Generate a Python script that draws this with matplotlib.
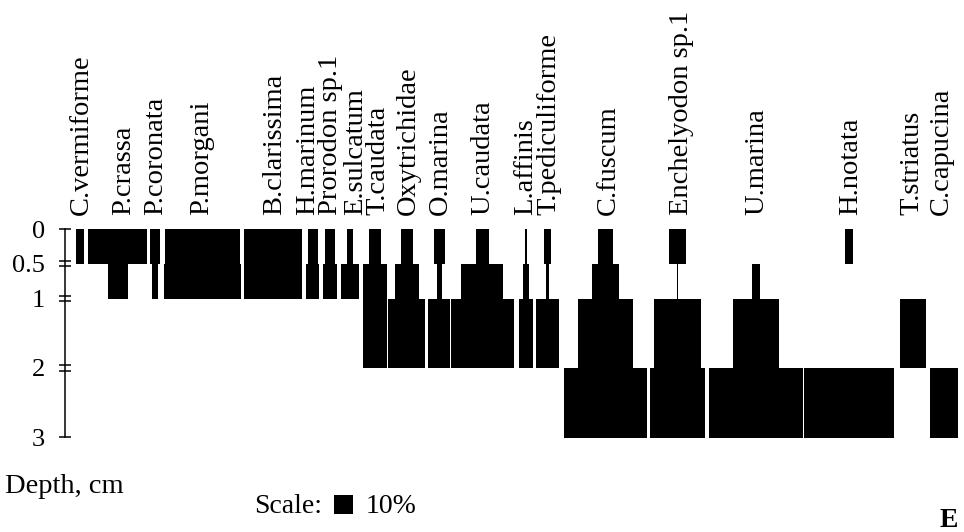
import matplotlib
matplotlib.use("Agg")
import matplotlib.pyplot as plt
from matplotlib.transforms import blended_transform_factory

plt.rcParams["font.family"] = ["Liberation Serif", "DejaVu Serif"]

# ciliate species along the transect
species = ["C.vermiforme", "P.crassa", "P.coronata", "P.morgani", "B.clarissima",
           "H.marinum", "Prorodon sp.1", "E.sulcatum", "T.caudata", "Oxytrichidae",
           "O.marina", "U.caudata", "L.affinis", "T.pediculiforme", "C.fuscum",
           "Enchelyodon sp.1", "U.marina", "H.notata", "T.striatus", "C.capucina"]
# kite centre lines, in transect units
centre = [8.1, 28.4, 48.6, 74.3, 112.6, 133.8, 143.2, 154.1, 167.5, 184.8,
          202.3, 225.6, 249.2, 260.9, 292.2, 331.1, 373.5, 424.0, 458.5, 475.0]

# depth layers (cm) and abundance (%) in each layer, half-width of the kite
layer_edges = [0, 0.5, 1, 2, 3]
pct_0_05 = [2.2, 15.7, 2.6, 20.4, 15.7, 2.7, 2.9, 1.4, 3.2, 3.2,
            3.1, 3.6, 0.5, 1.9, 4.1, 4.6, 0.2, 2.2, 0, 0]
pct_05_1 = [0, 5.4, 1.4, 20.8, 15.7, 3.7, 3.7, 4.9, 6.5, 6.3,
            1.4, 11.4, 1.8, 0.9, 7.3, 0.5, 2.1, 0, 0, 0]
pct_1_2 = [0, 0, 0, 0, 0, 0, 0, 0, 6.5, 10.0,
           5.9, 17.0, 3.8, 6.3, 14.7, 12.7, 12.5, 0, 6.9, 0]
pct_2_3 = [0, 0, 0, 0, 0, 0, 0, 0, 0, 0,
           0, 0, 0, 0, 22.4, 14.9, 25.5, 24.3, 0, 7.6]
layers = [pct_0_05, pct_05_1, pct_1_2, pct_2_3]

depth_ticks = [0, 0.5, 1, 2, 3]
depth_labels = ["0", "0.5", "1", "2", "3"]
SCALE_PCT = 10

# layout (pixels)
W, H = 964, 532
PX = 1.85          # px per transect unit
CM = 69.5          # px per cm of depth
X0, Y0 = 65, 229   # axis origin
label_nudge = {"P.crassa": 5, "P.morgani": -2, "H.marinum": -6, "E.sulcatum": 4.5,
               "T.caudata": 2.5, "L.affinis": -1, "C.fuscum": 2,
               "Enchelyodon sp.1": 3, "T.striatus": -2.5, "C.capucina": -3.5}

fig = plt.figure(figsize=(W / 100, H / 100), dpi=100)
ax = fig.add_axes([X0 / W, 1 - (Y0 + 3 * CM) / H, (W - X0) / W, 3 * CM / H])

for k, pct in enumerate(layers):
    top, bot = layer_edges[k], layer_edges[k + 1]
    for c, v in zip(centre, pct):
        if v > 0:
            ax.bar(c, bot - top, width=2 * v, bottom=top, color="black",
                   linewidth=0)

# depth axis with double ticks at the inner boundaries
for s in ["top", "right", "bottom"]:
    ax.spines[s].set_visible(False)
ax.spines["left"].set_bounds(0, 3)
ax.spines["left"].set_linewidth(1.1)
ax.set_xticks([])
ax.set_yticks(depth_ticks)
ax.set_yticklabels(depth_labels, fontsize=19)
ax.tick_params(axis="y", which="major", length=0, pad=14.4)
d = 2.6 / CM
minor = [0, 3] + [t + s for t in depth_ticks[1:-1] for s in (-d, d)]
ax.yaxis.remove_overlapping_locs = False
ax.set_yticks(minor, minor=True)
ax.tick_params(axis="y", which="minor", direction="inout", length=8.6, width=1.1)

ax.set_xlim(0, (W - X0) / PX)
ax.set_ylim(3, 0)

# species names above their kites
tr = blended_transform_factory(ax.transData, ax.transAxes)
for name, c in zip(species, centre):
    x = c + (7.5 + label_nudge.get(name, 0)) / PX
    ax.text(x, 1 + 14 / (3 * CM), name, rotation=90, rotation_mode="anchor",
            ha="left", va="baseline", fontsize=20.5, transform=tr)

fig.text(5 / W, 1 - 493 / H, "Depth, cm", fontsize=20.5, ha="left", va="baseline")

# scale square
sq_x = (343.5 - X0) / PX
sq_h = SCALE_PCT * PX / CM
ax.bar(sq_x, sq_h, width=SCALE_PCT, bottom=(514 - Y0) / CM - sq_h,
       color="black", linewidth=0, clip_on=False)
fig.text(322 / W, 1 - 513 / H, "Scale:", fontsize=20, ha="right", va="baseline")
fig.text(366 / W, 1 - 513 / H, f"{SCALE_PCT}%", fontsize=20, ha="left", va="baseline")
fig.text(958 / W, 1 - 527 / H, "E", fontsize=20, fontweight="bold",
         ha="right", va="baseline")

fig.savefig("out.png", dpi=100)
